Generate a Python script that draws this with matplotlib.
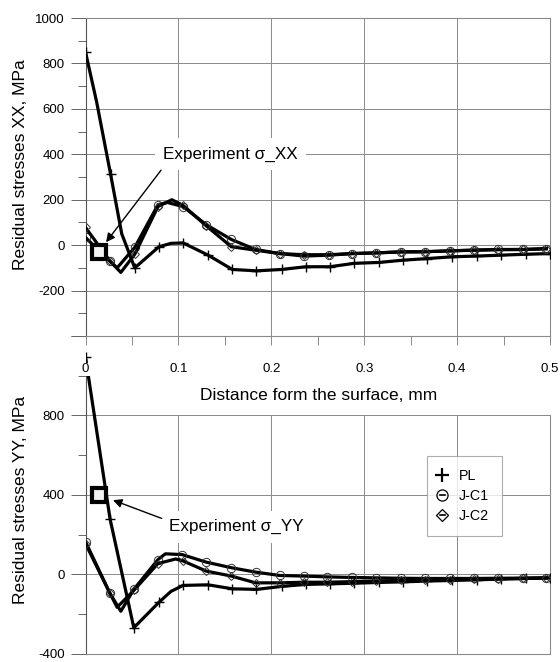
import numpy as np
import matplotlib.pyplot as plt
from matplotlib.ticker import MultipleLocator, FuncFormatter
from matplotlib.lines import Line2D

plt.rcParams['font.family'] = ['Liberation Sans', 'DejaVu Sans']

# ---- residual stresses XX (upper chart) ----
pl_xx_x = [0, 0.012, 0.027, 0.039, 0.053, 0.079, 0.092, 0.105, 0.132, 0.158, 0.184, 0.211,
           0.237, 0.263, 0.289, 0.316, 0.342, 0.368, 0.395, 0.421, 0.447, 0.474, 0.5]
pl_xx_y = [850, 630, 312, 50, -100, -7, 8, 10, -44, -107, -113, -107,
           -95, -95, -80, -76, -66, -59, -51, -48, -44, -40, -37]
pl_xx_mk = [0, 2, 4, 5, 7, 8, 9, 10, 11, 12, 13, 14, 15, 16, 17, 18, 19, 20, 21, 22]

jc1_xx_x = [0, 0.026, 0.034, 0.053, 0.078, 0.088, 0.105, 0.13, 0.157, 0.183, 0.209, 0.235,
            0.262, 0.287, 0.313, 0.34, 0.365, 0.392, 0.418, 0.444, 0.471, 0.496]
jc1_xx_y = [34, -70, -100, -10, 178, 188, 170, 90, 25, -19, -37, -48,
            -44, -37, -34, -29, -29, -25, -22, -19, -19, -15]
jc1_xx_mk = [0, 1, 3, 4, 6, 7, 8, 9, 10, 11, 12, 13, 14, 15, 16, 17, 18, 19, 20, 21]

jc2_xx_x = [0, 0.026, 0.038, 0.053, 0.078, 0.093, 0.105, 0.13, 0.157, 0.183, 0.209, 0.235,
            0.262, 0.287, 0.313, 0.34, 0.365, 0.392, 0.418, 0.444, 0.471, 0.496]
jc2_xx_y = [78, -68, -120, -40, 170, 200, 175, 85, -7, -22, -37, -42,
            -42, -37, -34, -30, -29, -25, -22, -20, -19, -16]
jc2_xx_mk = [0, 1, 3, 4, 6, 7, 8, 9, 10, 11, 12, 13, 14, 15, 16, 17, 18, 19, 20, 21]

exp_xx = (0.015, -29)

# ---- residual stresses YY (lower chart) ----
pl_yy_x = [0, 0.0264, 0.052, 0.079, 0.092, 0.105, 0.132, 0.158, 0.184, 0.211, 0.237,
           0.263, 0.289, 0.316, 0.342, 0.368, 0.395, 0.421, 0.447, 0.474, 0.5]
pl_yy_y = [1093, 280, -268, -140, -85, -55, -52, -72, -75, -60, -50,
           -47, -44, -40, -37, -33, -30, -27, -23, -20, -17]
pl_yy_mk = [0, 1, 2, 3, 5, 6, 7, 8, 9, 10, 11, 12, 13, 14, 15, 16, 17, 18, 19, 20]

jc1_yy_x = [0, 0.026, 0.038, 0.052, 0.078, 0.086, 0.104, 0.13, 0.157, 0.183, 0.209, 0.235,
            0.26, 0.287, 0.313, 0.34, 0.365, 0.392, 0.418, 0.444, 0.471, 0.496]
jc1_yy_y = [165, -92, -185, -75, 75, 104, 100, 62, 34, 12, -5, -8,
            -12, -15, -17, -19, -20, -20, -20, -19, -18, -17]
jc1_yy_mk = [0, 1, 3, 4, 6, 7, 8, 9, 10, 11, 12, 13, 14, 15, 16, 17, 18, 19, 20, 21]

jc2_yy_x = [0, 0.026, 0.034, 0.052, 0.078, 0.097, 0.105, 0.13, 0.157, 0.183, 0.209, 0.235,
            0.26, 0.287, 0.313, 0.34, 0.365, 0.392, 0.418, 0.444, 0.471, 0.496]
jc2_yy_y = [155, -92, -165, -80, 55, 78, 68, 17, -8, -42, -42, -39,
            -39, -36, -33, -30, -28, -26, -24, -22, -20, -18]
jc2_yy_mk = [0, 1, 3, 4, 6, 7, 8, 9, 10, 11, 12, 13, 14, 15, 16, 17, 18, 19, 20, 21]

exp_yy = (0.015, 400)

GRID = '#8a8a8a'
LW = 2.3

fig = plt.figure(figsize=(5.6, 6.62), dpi=100)
ax1 = fig.add_axes([0.1527, 0.4924, 0.8295, 0.4804])
ax2 = fig.add_axes([0.1527, 0.0121, 0.8295, 0.4804])
ax1.set_zorder(2)
ax2.set_zorder(1)


def draw_series(ax, pl, jc1, jc2):
    ax.plot(pl[0], pl[1], color='k', lw=LW, marker='+', ms=7, mew=1.0,
            markevery=pl[2], zorder=3)
    ax.plot(jc1[0], jc1[1], color='k', lw=LW, marker='o', ms=6, mew=0.7,
            mfc='none', mec='#333333', markevery=jc1[2], zorder=3)
    ax.plot(jc2[0], jc2[1], color='k', lw=LW, marker='D', ms=4, mew=0.7,
            mfc='none', mec='#333333', markevery=jc2[2], zorder=3)


draw_series(ax1, (pl_xx_x, pl_xx_y, pl_xx_mk), (jc1_xx_x, jc1_xx_y, jc1_xx_mk),
            (jc2_xx_x, jc2_xx_y, jc2_xx_mk))
draw_series(ax2, (pl_yy_x, pl_yy_y, pl_yy_mk), (jc1_yy_x, jc1_yy_y, jc1_yy_mk),
            (jc2_yy_x, jc2_yy_y, jc2_yy_mk))

# experiment points
for ax, p in ((ax1, exp_xx), (ax2, exp_yy)):
    ax.plot([p[0]], [p[1]], marker='s', ms=9.5, mew=3.0, mec='k', mfc='#f2f2f2',
            ls='none', zorder=4)

# ---- upper axes ----
ax1.set_xlim(0, 0.5)
ax1.set_ylim(-400, 1000)
ax1.xaxis.set_major_locator(MultipleLocator(0.1))
ax1.xaxis.set_minor_locator(MultipleLocator(0.05))
ax1.yaxis.set_major_locator(MultipleLocator(200))
ax1.yaxis.set_minor_locator(MultipleLocator(100))
ax1.xaxis.set_major_formatter(FuncFormatter(lambda v, p: f'{v:g}'))
ax1.yaxis.set_major_formatter(FuncFormatter(lambda v, p: '' if v < -300 else f'{v:g}'))
ax1.grid(which='major', color=GRID, lw=0.7)
ax1.tick_params(axis='y', which='major', length=11, width=0.7, color='#666666', pad=4,
                labelsize=9.5)
ax1.tick_params(axis='y', which='minor', length=5.5, width=0.7, color='#666666')
ax1.tick_params(axis='x', which='both', length=6.5, width=0.7, color=GRID, pad=13,
                labelsize=9.5)
for lab in ax1.get_xticklabels():
    lab.set_bbox(dict(facecolor='white', edgecolor='none', pad=0.3))
for s in ax1.spines.values():
    s.set_color(GRID)
    s.set_linewidth(0.8)
ax1.spines['left'].set_color('#555555')
ax1.set_ylabel('Residual stresses XX, MPa', fontsize=12.5, va='center')
ax1.yaxis.set_label_coords(-0.139, 0.538)
ax1.set_xlabel('Distance form the surface, mm', fontsize=12.5, va='center')
ax1.xaxis.set_label_coords(0.5016, -0.1855)

# ---- lower axes ----
ax2.set_xlim(0, 0.5)
ax2.set_ylim(-400, 1200)
ax2.yaxis.set_major_locator(MultipleLocator(400))
ax2.yaxis.set_minor_locator(MultipleLocator(200))
ax2.yaxis.set_major_formatter(FuncFormatter(lambda v, p: '' if v > 1000 else f'{v:g}'))
ax2.tick_params(axis='y', which='major', length=11, width=0.7, color='#666666', pad=4,
                labelsize=9.5)
ax2.tick_params(axis='y', which='minor', length=5.5, width=0.7, color='#666666')
ax2.tick_params(axis='x', which='both', length=0, labelbottom=False)
ax2.set_xticks([])
grid_x = [0.1, 0.2, 0.3, 0.4]
grid_y = [0, 400, 800]
ax2.vlines(grid_x, -400, 800, colors=GRID, lw=0.7, zorder=1)
ax2.hlines(grid_y, 0, 0.5, colors=GRID, lw=0.7, zorder=1)
ax2.spines['top'].set_visible(False)
ax2.spines['left'].set_bounds(-400, 1000)
ax2.spines['right'].set_bounds(-400, 800)
for s in ax2.spines.values():
    s.set_color(GRID)
    s.set_linewidth(0.8)
ax2.spines['left'].set_color('#555555')
ax2.set_ylabel('Residual stresses YY, MPa', fontsize=12.5, va='center')
ax2.yaxis.set_label_coords(-0.139, 0.484)

# ---- annotations ----
ax1.text(0.0834, 400, 'Experiment σ_XX', fontsize=12.3, va='center', ha='left',
         bbox=dict(facecolor='white', edgecolor='none', pad=6), zorder=5)
ax1.annotate('', xy=(0.0221, 13), xytext=(0.0813, 330),
             arrowprops=dict(arrowstyle='-|>', color='k', lw=1, mutation_scale=13,
                             shrinkA=0, shrinkB=0), zorder=5)
ax2.text(0.0899, 241, 'Experiment σ_YY', fontsize=12.3, va='center', ha='left',
         bbox=dict(facecolor='white', edgecolor='none', pad=6), zorder=5)
ax2.annotate('', xy=(0.0296, 374), xytext=(0.082, 282),
             arrowprops=dict(arrowstyle='-|>', color='k', lw=1, mutation_scale=13,
                             shrinkA=0, shrinkB=0), zorder=5)

# ---- legend ----
handles = [
    Line2D([0], [0], color='k', lw=1.2, marker='+', ms=10, mew=1.6),
    Line2D([0], [0], color='k', lw=1.2, marker='o', ms=8, mew=0.9, mfc='none', mec='k'),
    Line2D([0], [0], color='k', lw=1.2, marker='D', ms=6.5, mew=0.9, mfc='none', mec='k'),
]
leg = ax2.legend(handles, ['PL', 'J-C1', 'J-C2'], loc='upper left',
                 bbox_to_anchor=(0.7345, 0.6226), fontsize=10.3, frameon=True,
                 fancybox=False, handlelength=0.35, handletextpad=1.0,
                 labelspacing=0.42, borderpad=0.9, borderaxespad=0)
leg.get_frame().set_edgecolor('#9a9a9a')
leg.get_frame().set_linewidth(0.8)

fig.savefig('out.png', dpi=100)
